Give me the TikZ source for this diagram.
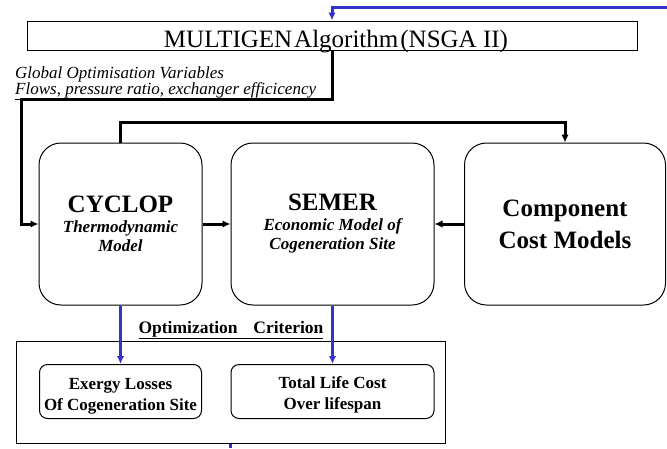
\documentclass[tikz,border=0pt]{standalone}
\usepackage{fontspec}
\setmainfont{Liberation Serif}
\usetikzlibrary{arrows.meta}
\definecolor{cblue}{RGB}{51,51,204}
\begin{document}
\begin{tikzpicture}[x=1pt,y=-1pt,
  bigbox/.style={draw=black,line width=1pt,rounded corners=22pt,inner sep=0pt,
    minimum height=162pt,align=center},
  smallbox/.style={draw=black,line width=1pt,rounded corners=8pt,inner sep=0pt,
    minimum height=54pt},
  smalltxt/.style={inner sep=0pt,anchor=base,align=center,
    font=\fontsize{17}{21}\selectfont\bfseries},
  plainbox/.style={draw=black,line width=1pt,inner sep=0pt},
  conn/.style={line width=3pt,-{Latex[length=8pt,width=7.5pt]}},
  bconn/.style={cblue,line width=3pt,-{Latex[length=8pt,width=7.5pt]}},
  sub/.style={font=\fontsize{17}{19}\selectfont\bfseries\itshape},
  vartxt/.style={anchor=base west,inner sep=0pt,text height=11pt,text depth=1pt,
    font=\fontsize{17}{20}\selectfont\itshape},
]
\useasboundingbox (0,0) rectangle (667,448);

% top box
\node[plainbox,minimum width=610pt,minimum height=29pt] (top) at (332,35.5) {};
\node[anchor=base,inner sep=0pt,font=\fontsize{25}{28}\selectfont] (toptxt) at (336,47.5)
  {MULTIGEN\hspace{2pt}Algorithm\hspace{2pt}(NSGA II)};

% variable labels
\node[vartxt] (gov) at (15,78.5) {Global Optimisation Variables};
\node[vartxt] (flw) at (15,94.5) {\underline{Flows, pressure ratio, exchanger efficicency}};

% main boxes
\node[bigbox,minimum width=163pt,sub] (cyc) at (120.5,224)
  {{\fontsize{25}{25}\selectfont\upshape CYCLOP}\\[1pt]Thermodynamic\\Model};
\node[bigbox,minimum width=203pt,sub] (sem) at (332.5,224)
  {{\fontsize{25}{25}\selectfont\upshape SEMER}\\[1pt]Economic Model of\\Cogeneration Site};
\node[bigbox,minimum width=201pt,font=\fontsize{25}{32}\selectfont\bfseries] (comp) at (565,224)
  {Component\\Cost Models};

% criterion
\node[anchor=base,inner sep=0pt,font=\fontsize{17.5}{20}\selectfont\bfseries] (crit) at (231,333)
  {\underline{Optimization\hspace{0.9em}Criterion}};
\node[plainbox,minimum width=429pt,minimum height=102pt] (outer) at (230.5,392) {};
\node[smallbox,minimum width=162pt] (exg) at (120.5,391.5) {};
\node[smallbox,minimum width=203pt] (tlc) at (332.5,391.5) {};
\node[smalltxt] (exgtxt) at (120.5,410) {Exergy Losses\\Of Cogeneration Site};
\node[smalltxt] (tlctxt) at (332.5,409) {Total Life Cost\\Over lifespan};

% coordinates
\coordinate (bstart) at (667,7);
\coordinate (k1) at (21,99);
\coordinate (bend) at (230.5,448);

% connectors
\draw[bconn] (bstart) -| (top.north);
\draw[conn] (top.south) |- (k1) |- (cyc.west);
\draw[conn] (cyc.north) -- ++(0,-20) -| (comp.north);
\draw[conn] (cyc.east) -- (sem.west);
\draw[conn] (comp.west) -- (sem.east);
\draw[bconn] (cyc.south) -- (exg.north);
\draw[bconn] (sem.south) -- (tlc.north);
\draw[cblue,line width=3pt] (outer.south) -- (bend);
\end{tikzpicture}
\end{document}
